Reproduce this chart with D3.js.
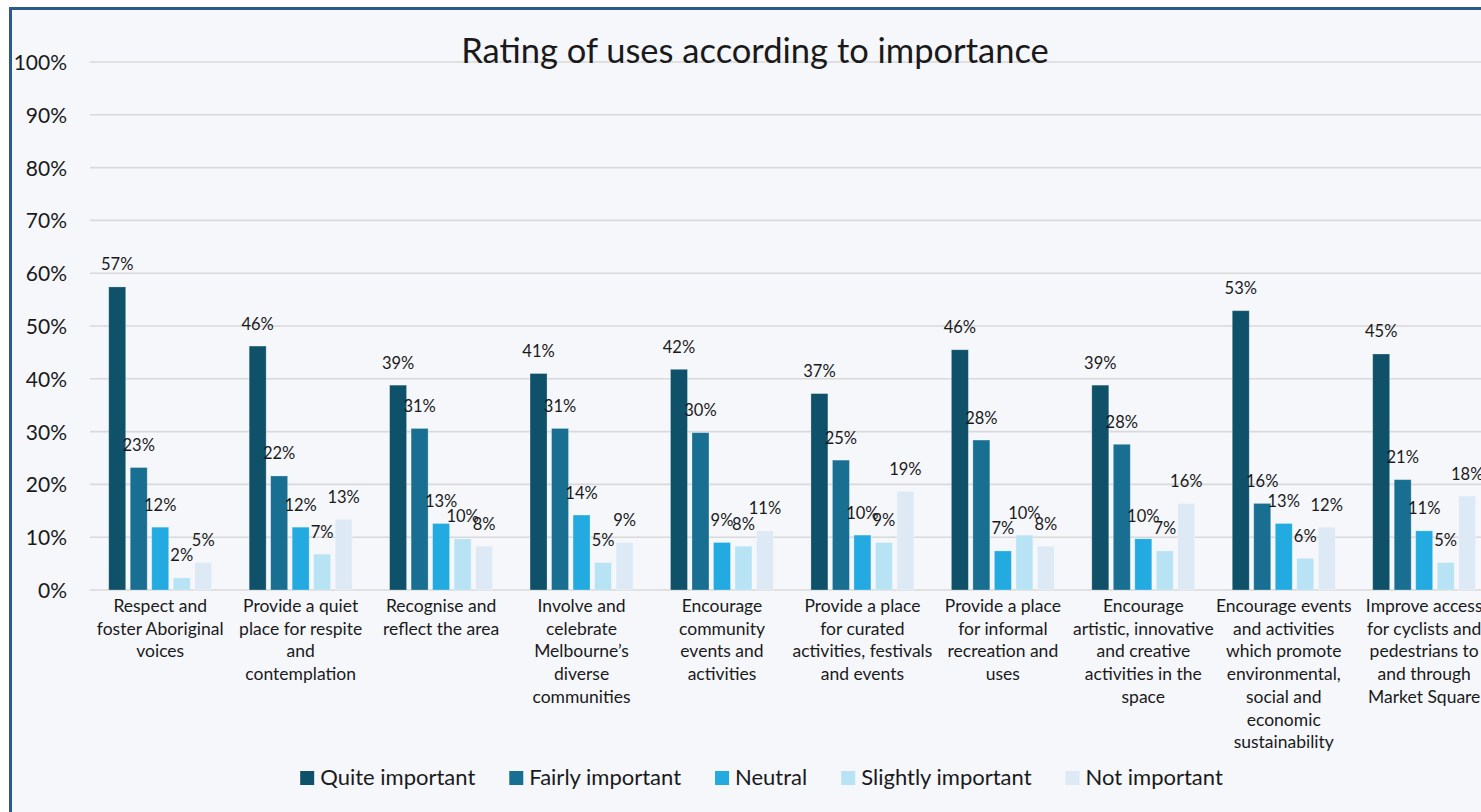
<!DOCTYPE html>
<html>
<head>
<meta charset="utf-8">
<script src="https://cdn.jsdelivr.net/npm/d3@7"></script>
<style>
  html, body { margin: 0; padding: 0; background: #ffffff; overflow: hidden; }
  svg { display: block; }
  text { font-family: Lato, "Open Sans", sans-serif; fill: #1a1a1a; }
</style>
</head>
<body>
<svg id="chart" width="1481" height="812"></svg>
<script>
const title = "Rating of uses according to importance";

const categories = [
  ["Respect and", "foster Aboriginal", "voices"],
  ["Provide a quiet", "place for respite", "and", "contemplation"],
  ["Recognise and", "reflect the area"],
  ["Involve and", "celebrate", "Melbourne\u2019s", "diverse", "communities"],
  ["Encourage", "community", "events and", "activities"],
  ["Provide a place", "for curated", "activities, festivals", "and events"],
  ["Provide a place", "for informal", "recreation and", "uses"],
  ["Encourage", "artistic, innovative", "and creative", "activities in the", "space"],
  ["Encourage events", "and activities", "which promote", "environmental,", "social and", "economic", "sustainability"],
  ["Improve access", "for cyclists and", "pedestrians to", "and through", "Market Square"]
];

const seriesNames = ["Quite important", "Fairly important", "Neutral", "Slightly important", "Not important"];
const seriesColors = ["#0F5169", "#186F91", "#22AAE1", "#B8E3F5", "#DDEAF6"];

const quiteImportant    = [0.574, 0.462, 0.388, 0.410, 0.418, 0.372, 0.455, 0.388, 0.529, 0.447];
const fairlyImportant   = [0.232, 0.216, 0.306, 0.306, 0.298, 0.246, 0.284, 0.276, 0.164, 0.209];
const neutral           = [0.119, 0.119, 0.126, 0.142, 0.090, 0.104, 0.074, 0.097, 0.126, 0.112];
const slightlyImportant = [0.023, 0.068, 0.097, 0.052, 0.083, 0.090, 0.104, 0.074, 0.060, 0.052];
const notImportant      = [0.052, 0.134, 0.083, 0.090, 0.112, 0.187, 0.083, 0.164, 0.119, 0.178];

const yTicks = [0, 0.1, 0.2, 0.3, 0.4, 0.5, 0.6, 0.7, 0.8, 0.9, 1.0];

const seriesValues = [quiteImportant, fairlyImportant, neutral, slightlyImportant, notImportant];

const svg = d3.select("#chart");

// chart background + border (extends past the right/bottom edge like the reference crop)
svg.append("rect")
  .attr("x", 10.5).attr("y", 8.5)
  .attr("width", 1700).attr("height", 900)
  .attr("fill", "#F5F7FB")
  .attr("stroke", "#2C5A8B").attr("stroke-width", 3);

const catIdx = categories.map((d, i) => i);
const x0 = d3.scaleBand().domain(catIdx).range([90, 90 + 1404.4]).paddingInner(0.2667).paddingOuter(0.1333);
const x1 = d3.scaleBand().domain(d3.range(seriesNames.length)).range([0, x0.bandwidth()]).paddingInner(0.21).paddingOuter(0);
const y = d3.scaleLinear().domain([0, 1]).range([590, 62]);

// gridlines
svg.append("g").selectAll("line").data(yTicks).join("line")
  .attr("x1", 90).attr("x2", 1700)
  .attr("y1", d => y(d)).attr("y2", d => y(d))
  .attr("stroke", "#D9D9D9").attr("stroke-width", 1.6);

// y axis labels
const yAxis = d3.axisLeft(y).tickValues(yTicks).tickFormat(d3.format(".0%")).tickSize(0).tickPadding(0);
const yg = svg.append("g").attr("transform", "translate(67,0)").call(yAxis);
yg.select(".domain").remove();
yg.selectAll("text").style("font-family", "Lato, sans-serif").attr("font-size", 21).attr("fill", "#1a1a1a").attr("dy", "0.36em");

// title
svg.append("text")
  .attr("x", 755).attr("y", 63)
  .attr("text-anchor", "middle")
  .attr("font-size", 34.5)
  .text(title);

// bars
const groups = svg.append("g").selectAll("g").data(catIdx).join("g")
  .attr("transform", d => `translate(${x0(d)},0)`);

groups.selectAll("rect").data(ci => seriesValues.map((vals, si) => ({ si, v: vals[ci] }))).join("rect")
  .attr("x", d => x1(d.si))
  .attr("width", x1.bandwidth())
  .attr("y", d => y(d.v))
  .attr("height", d => y(0) - y(d.v))
  .attr("fill", d => seriesColors[d.si])
  .attr("stroke", "rgba(255,255,255,0.35)").attr("stroke-width", 0.8);

// data labels
groups.selectAll("text.lbl").data(ci => seriesValues.map((vals, si) => ({ si, v: vals[ci] }))).join("text")
  .attr("class", "lbl")
  .attr("x", d => x1(d.si) + x1.bandwidth() / 2)
  .attr("y", d => y(d.v) - 16.5)
  .attr("text-anchor", "middle")
  .attr("font-size", 16.5)
  .text(d => d3.format(".0%")(d.v));

// category labels
const cg = svg.append("g").selectAll("text").data(catIdx).join("text")
  .attr("text-anchor", "middle")
  .attr("font-size", 17.5)
  .attr("transform", d => `translate(${x0(d) + x0.bandwidth() / 2},612)`);
cg.selectAll("tspan").data(d => categories[d]).join("tspan")
  .attr("x", 0)
  .attr("dy", (d, i) => i === 0 ? 0 : 22.7)
  .text(d => d);

// legend
const lg = svg.append("g");
const items = lg.selectAll("g").data(seriesNames).join("g");
items.append("rect").attr("width", 14).attr("height", 14).attr("y", 771)
  .attr("fill", (d, i) => seriesColors[i]);
items.append("text").attr("x", 20).attr("y", 785).attr("font-size", 22).text(d => d);
let widths = [];
items.each(function () { widths.push(this.querySelector("text").getComputedTextLength() + 20); });
const gap = 34;
const total = d3.sum(widths) + gap * (widths.length - 1);
let cx = 761.5 - total / 2;
items.attr("transform", (d, i) => { const t = `translate(${cx},0)`; cx += widths[i] + gap; return t; });
</script>
</body>
</html>
